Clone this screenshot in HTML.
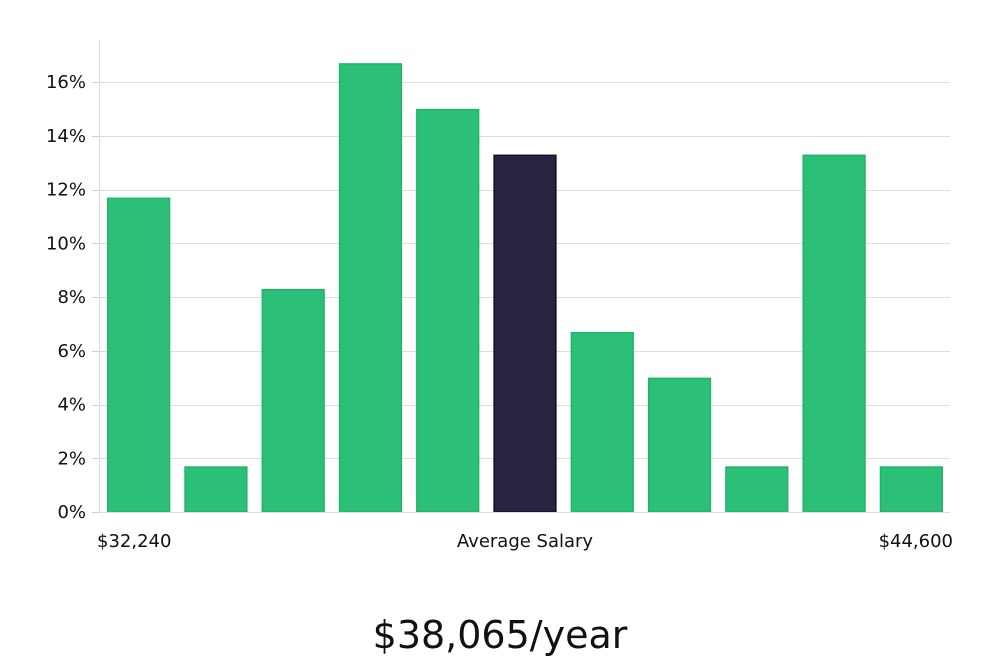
<!DOCTYPE html>
<html><head><meta charset="utf-8"><style>
body{margin:0;background:#fff;width:1000px;height:660px;overflow:hidden;font-family:"Liberation Sans","DejaVu Sans",sans-serif}
svg text{font-family:"DejaVu Sans","Liberation Sans",sans-serif}
</style></head><body>
<svg id="chart" width="1000" height="660" xmlns="http://www.w3.org/2000/svg">
<g id="grid"></g>
<g id="bars"></g>
<g id="yticks"></g>
<line x1="99.5" y1="40" x2="99.5" y2="512" stroke="#dcdcdc" stroke-width="1"/>
<line x1="99" y1="512.5" x2="950" y2="512.5" stroke="#dcdcdc" stroke-width="1"/>
<text x="97" y="547" font-size="18" fill="#111">$32,240</text>
<text x="525" y="547" font-size="18" fill="#111" text-anchor="middle">Average Salary</text>
<text x="953" y="547" font-size="18" fill="#111" text-anchor="end">$44,600</text>
<text x="500" y="648" font-size="38" fill="#111" text-anchor="middle" font-family="Liberation Sans, sans-serif">$38,065/year</text>
</svg>
<script>
const categories = ["b1","b2","b3","b4","b5","b6","b7","b8","b9","b10","b11"];
const values = [11.7,1.7,8.3,16.7,15.0,13.3,6.7,5.0,1.7,13.3,1.7];
const highlightIndex = [5];
const yTicks = [0,2,4,6,8,10,12,14,16];
const tickLabels = ["0%","2%","4%","6%","8%","10%","12%","14%","16%"];

const NS="http://www.w3.org/2000/svg";
const x0=100,x1=950,yBase=512,yTop16=82;
const y=v=>yBase-(yBase-yTop16)*v/16;
const band=(x1-x0)/categories.length;
const xb=i=>x0+i*band+7;
const bw=band-14;
const grid=document.getElementById('grid'),yt=document.getElementById('yticks'),bars=document.getElementById('bars');
yTicks.forEach((t,i)=>{
  if(t>0){
    const l=document.createElementNS(NS,'line');
    
    
    l.setAttribute('x1',x0);l.setAttribute('x2',x1);
    l.setAttribute('y1',Math.round(y(t))+0.5);l.setAttribute('y2',Math.round(y(t))+0.5);
    l.setAttribute('stroke','#dedede');grid.appendChild(l);
  }
  const k=document.createElementNS(NS,'line');
  
  
  k.setAttribute('x1',92);k.setAttribute('x2',99);
  k.setAttribute('y1',Math.round(y(t))+0.5);k.setAttribute('y2',Math.round(y(t))+0.5);
  k.setAttribute('stroke','#cfcfcf');yt.appendChild(k);
  const tx=document.createElementNS(NS,'text');
  
  
  tx.setAttribute('x',86);tx.setAttribute('y',y(t)+6);
  tx.setAttribute('text-anchor','end');tx.setAttribute('font-size','18');tx.setAttribute('fill','#111');
  tx.textContent=tickLabels[i];yt.appendChild(tx);
});
values.forEach((v,i)=>{
  const r=document.createElementNS(NS,'rect');
  
  
  const hi=highlightIndex.includes(i);
  r.setAttribute('x',xb(i)+0.75);r.setAttribute('width',bw-1.5);
  r.setAttribute('y',y(v)+0.75);r.setAttribute('height',yBase-y(v)-0.75);
  r.setAttribute('fill',hi?'#28233f':'#2bbf77');
  r.setAttribute('stroke',hi?'#14112a':'#1fb56a');r.setAttribute('stroke-width','1.5');
  bars.appendChild(r);
});
</script>
</body></html>
